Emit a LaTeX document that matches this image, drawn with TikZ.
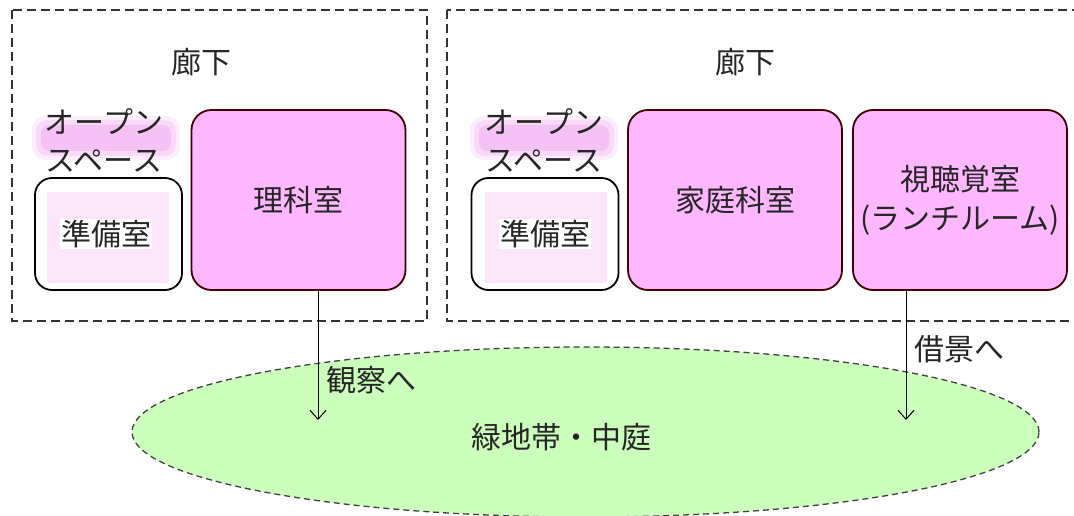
\documentclass[tikz,border=0pt]{standalone}
\usepackage{fontspec}
\setmainfont{Noto Sans CJK JP}
\usetikzlibrary{shapes.geometric,arrows.meta}

\definecolor{roompink}{RGB}{255,183,255}
\definecolor{palepink}{RGB}{253,230,250}
\definecolor{bandpink}{RGB}{244,188,244}
\definecolor{lawn}{RGB}{204,255,187}

\begin{document}
\begin{tikzpicture}[x=1pt,y=-1pt,
    zone/.style={draw=black!80,line width=1.6pt,dash pattern=on 9pt off 5pt},
    room/.style={draw=black!75!red,line width=1.8pt,fill=roompink,rounded corners=20pt,
        minimum width=214pt,minimum height=180pt,align=center,text=black!85,
        font=\fontsize{30}{39}\selectfont},
    prep/.style={draw=black,line width=1.8pt,fill=white,rounded corners=17pt,
        minimum width=147pt,minimum height=112pt},
    word/.style={font=\fontsize{30}{38}\selectfont,align=center,text=black!85},
    flow/.style={->,>={Straight Barb[length=9pt,width=16pt]},line width=1pt}]
    \useasboundingbox (0,0) rectangle (1074,516);
    \clip (0,0) rectangle (1074,516);

    % two wings
    \draw[zone] (12,10) rectangle (427,321);
    \draw[zone] (447,10) rectangle (1090,321);
    \node[word] (hallL) at (201,62) {廊下};
    \node[word] (hallR) at (745,62) {廊下};

    % open space marks
    \fill[bandpink,opacity=.25,rounded corners=14pt] (32,116) rectangle (180,160);
    \fill[bandpink,opacity=.45,rounded corners=11pt] (36,120) rectangle (176,156);
    \fill[bandpink,opacity=.8,rounded corners=8pt] (41,125) rectangle (171,151);
    \fill[bandpink,opacity=.25,rounded corners=14pt] (470,116) rectangle (618,160);
    \fill[bandpink,opacity=.45,rounded corners=11pt] (474,120) rectangle (614,156);
    \fill[bandpink,opacity=.8,rounded corners=8pt] (479,125) rectangle (609,151);
    \node[word] (openL) at (104,140) {オープン\\スペース};
    \node[word] (openR) at (544,140) {オープン\\スペース};

    % preparation rooms
    \node[prep] (prepL) at (108.5,234) {};
    \fill[palepink] (47,192) rectangle (169,283);
    \node[word,fill=white,inner sep=1pt] (prepLtxt) at (106,234) {準備室};
    \node[prep] (prepR) at (545,234) {};
    \fill[palepink] (485,192) rectangle (607,283);
    \node[word,fill=white,inner sep=1pt] (prepRtxt) at (545,234) {準備室};

    % rooms
    \node[room] (rika) at (298.5,200) {理科室};
    \node[room] (katei) at (735,200) {家庭科室};
    \node[room] (shichou) at (960,200) {視聴覚室\\(ランチルーム)};

    % garden
    \node[ellipse,draw=black!75,dash pattern=on 6pt off 4pt,line width=1.3pt,fill=lawn,
        minimum width=907pt,minimum height=170pt,inner sep=0pt] (garden) at (585.5,432) {};
    \node[word] (gardenTxt) at (561,437) {緑地帯・中庭};

    \coordinate (obsEnd) at (318,420);
    \coordinate (viewEnd) at (906,420);
    \draw[flow] (rika.south -| obsEnd) -- node[word,pos=0.69,right=5pt] (obsTxt) {観察へ} (obsEnd);
    \draw[flow] (shichou.south -| viewEnd) -- node[word,pos=0.45,right=5pt] (viewTxt) {借景へ} (viewEnd);
\end{tikzpicture}
\end{document}
